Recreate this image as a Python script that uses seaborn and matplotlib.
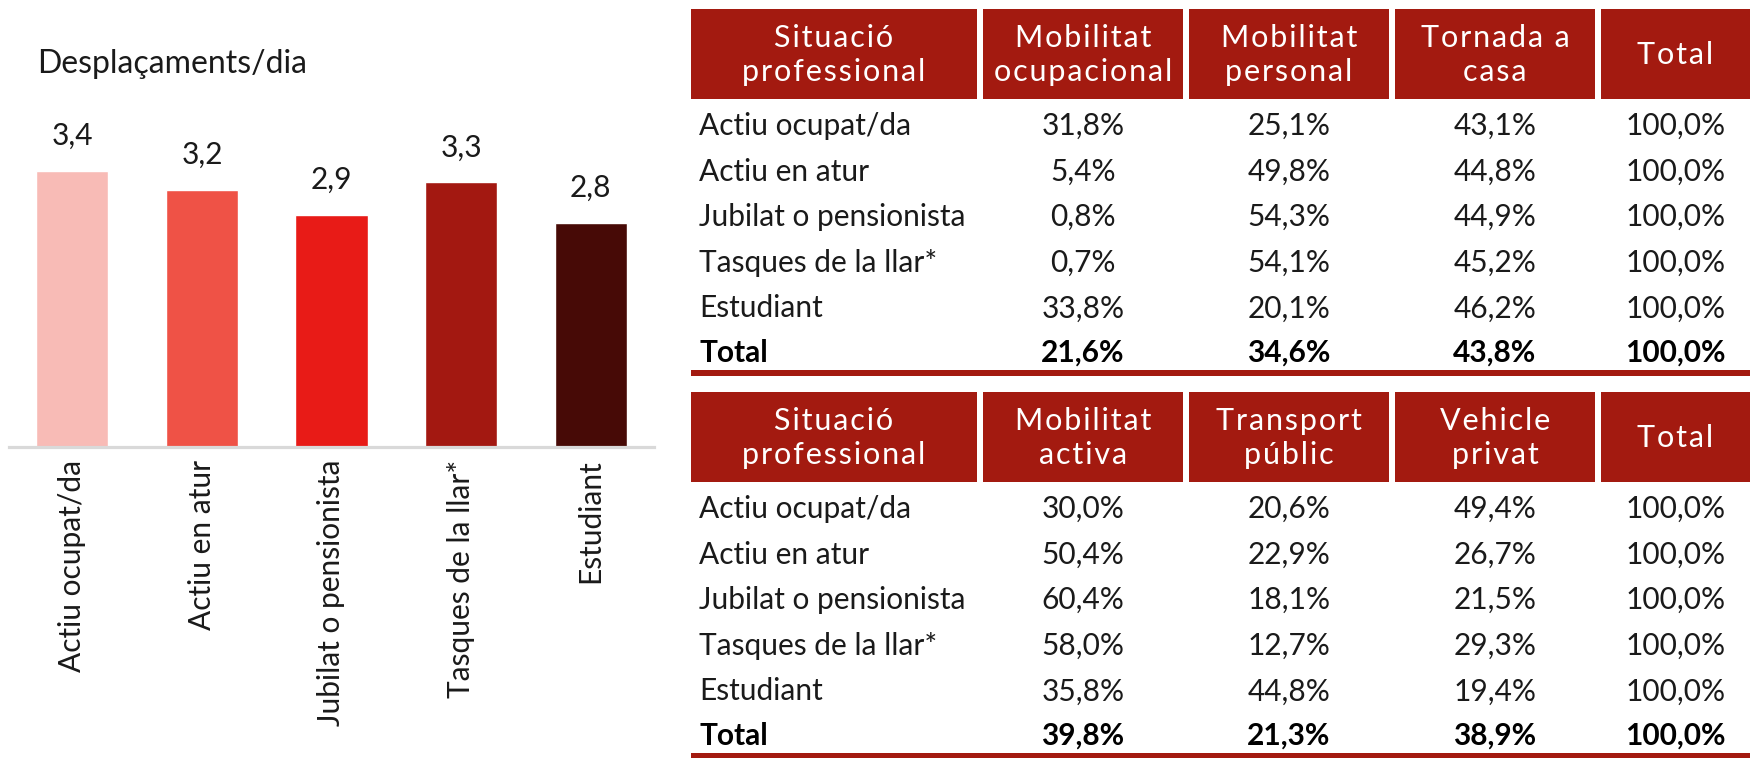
import matplotlib
matplotlib.use("Agg")
import matplotlib.pyplot as plt
import seaborn as sns
import pandas as pd
from matplotlib.patches import Rectangle

# chart data
situacions = ['Actiu ocupat/da', 'Actiu en atur', 'Jubilat o pensionista',
              'Tasques de la llar*', 'Estudiant']
desplacaments = [3.40, 3.17, 2.86, 3.26, 2.76]
bar_colors = ['#f8bbb6', '#ef5246', '#e81b17', '#a31811', '#470a06']

# table 1 - motiu
headers_motiu = ['Situació\nprofessional', 'Mobilitat\nocupacional', 'Mobilitat\npersonal',
                 'Tornada a\ncasa', 'Total']
mob_ocupacional = [31.8, 5.4, 0.8, 0.7, 33.8]
mob_personal = [25.1, 49.8, 54.3, 54.1, 20.1]
tornada_casa = [43.1, 44.8, 44.9, 45.2, 46.2]
total_motiu = [21.6, 34.6, 43.8, 100.0]

# table 2 - mode
headers_mode = ['Situació\nprofessional', 'Mobilitat\nactiva', 'Transport\npúblic',
                'Vehicle\nprivat', 'Total']
mob_activa = [30.0, 50.4, 60.4, 58.0, 35.8]
transport_public = [20.6, 22.9, 18.1, 12.7, 44.8]
vehicle_privat = [49.4, 26.7, 21.5, 29.3, 19.4]
total_mode = [39.8, 21.3, 38.9, 100.0]

row_total = [100.0, 100.0, 100.0, 100.0, 100.0]

sns.set_style("white")
plt.rcParams['font.family'] = ['Lato', 'DejaVu Sans']
FS = 21.5
RED = '#a31a10'


def pct(v):
    return f"{v:.1f}%".replace('.', ',')


def spaced(s):
    # rough letter spacing for the header cells
    return '\n'.join('\u200a'.join(line) for line in s.split('\n'))


fig = plt.figure(figsize=(17.5, 7.58), dpi=100)

# ---- bar chart ----
W, H = 1750, 758
ymax = 4.0
ax = fig.add_axes([9 / W, (H - 447) / H, 645 / W, ymax * 81.2 / H])
df = pd.DataFrame({'situacio': situacions, 'desp': desplacaments})
sns.barplot(data=df, x='situacio', y='desp', hue='situacio', palette=bar_colors,
            width=0.556, legend=False, saturation=1, ax=ax)
ax.set_xlim(-0.49, 4.49)
ax.set_ylim(0, ymax)
for c in ax.containers:
    ax.bar_label(c, labels=[f"{v:.1f}".replace('.', ',') for v in c.datavalues],
                 padding=15, fontsize=FS, color='#1a1a1a')
ax.set_xlabel('')
ax.set_ylabel('')
ax.set_yticks([])
ax.tick_params(axis='x', length=0, pad=9, labelsize=FS, labelcolor='#1a1a1a')
plt.setp(ax.get_xticklabels(), rotation=90, ha='center', va='top')
for s in ['top', 'left', 'right']:
    ax.spines[s].set_visible(False)
ax.spines['bottom'].set_color('#d9d9d9')
ax.spines['bottom'].set_linewidth(2.3)
fig.text(37 / W, 1 - 64 / H, 'Desplaçaments/dia', fontsize=23, color='#1a1a1a',
         ha='left', va='center')

# ---- tables ----
tab = fig.add_axes([0, 0, 1, 1])
tab.set_xlim(0, W)
tab.set_ylim(H, 0)
tab.axis('off')

col_left = [691, 983, 1189, 1395, 1601]
col_right = [977, 1183, 1389, 1595, 1750]
row_pitch = 45.6


def draw_table(top, headers, cols, totals):
    hb = top + 90
    for i, h in enumerate(headers):
        tab.add_patch(Rectangle((col_left[i], top), col_right[i] - col_left[i], hb - top,
                                color=RED, lw=0))
        tab.text((col_left[i] + col_right[i]) / 2, (top + hb) / 2 + 1, spaced(h),
                 color='white', fontsize=22, ha='center', va='center', linespacing=1.3)
    for r, name in enumerate(situacions):
        y = hb + 27 + r * row_pitch
        tab.text(699, y, name, fontsize=FS, ha='left', va='center', color='#1a1a1a')
        vals = [cols[0][r], cols[1][r], cols[2][r], row_total[r]]
        for j, v in enumerate(vals):
            tab.text((col_left[j + 1] + col_right[j + 1]) / 2, y, pct(v), fontsize=FS,
                     ha='center', va='center', color='#1a1a1a')
    y = hb + 27 + 5 * row_pitch - 1
    tab.text(699, y, 'Total', fontsize=FS, ha='left', va='center', fontweight='bold',
             color='black')
    for j, v in enumerate(totals):
        tab.text((col_left[j + 1] + col_right[j + 1]) / 2, y, pct(v), fontsize=FS,
                 ha='center', va='center', fontweight='bold', color='black')
    tab.add_patch(Rectangle((691, y + 17), W - 691, 6, color=RED, lw=0))


draw_table(9, headers_motiu, [mob_ocupacional, mob_personal, tornada_casa], total_motiu)
draw_table(392, headers_mode, [mob_activa, transport_public, vehicle_privat], total_mode)

fig.savefig('out.png', dpi=100)
